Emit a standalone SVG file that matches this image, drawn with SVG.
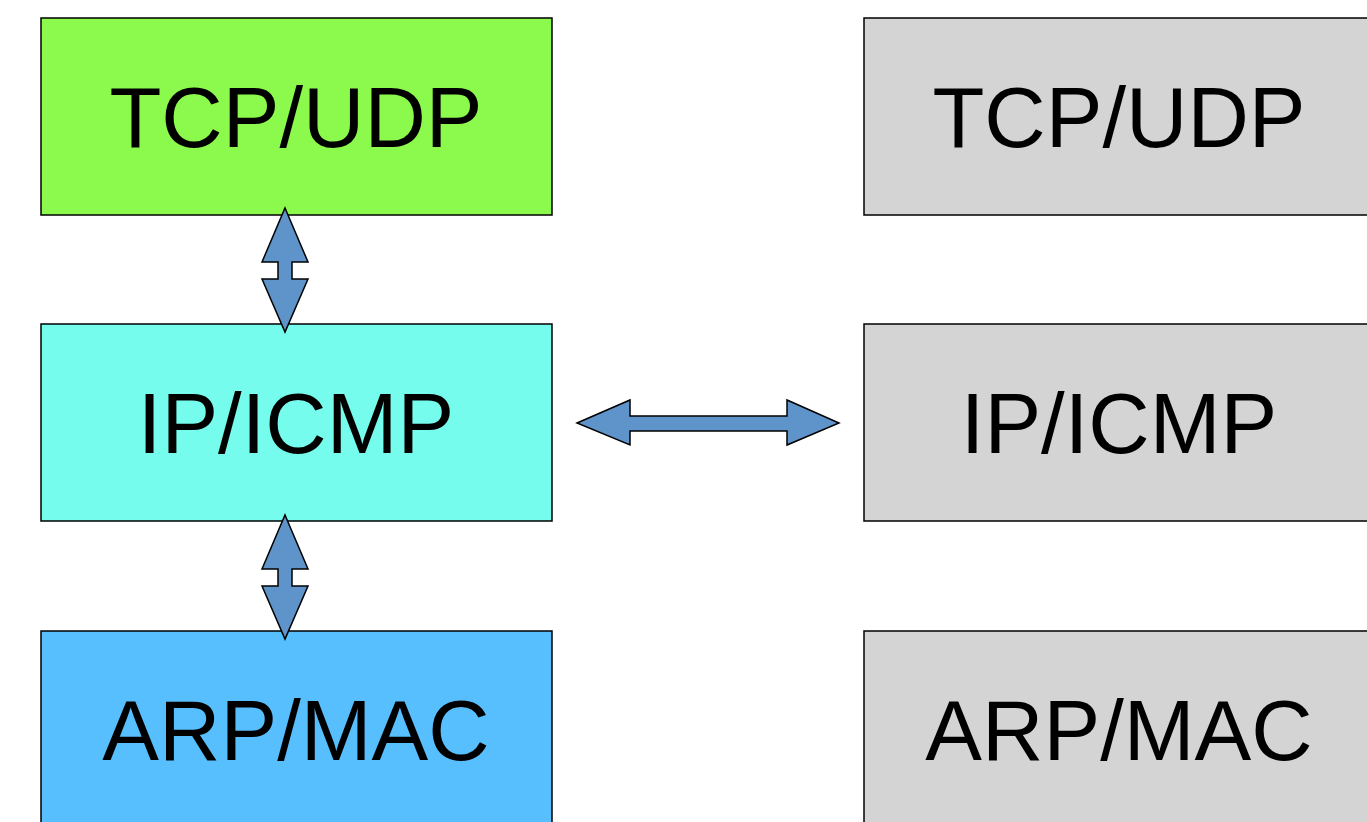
<svg xmlns="http://www.w3.org/2000/svg" width="1367" height="822" viewBox="0 0 1367 822">
<style>
rect{stroke:#000;stroke-width:1.5}
text{font-family:"Liberation Sans",Arial,sans-serif;font-size:85px;fill:#000;text-anchor:middle}
.arr{fill:#5f94ca;stroke:#000;stroke-width:1.5;stroke-linejoin:miter}
</style>
<rect x="0" y="0" width="1367" height="822" fill="#fff" style="stroke:none"/>
<g id="tcp-left"><rect x="41" y="18" width="511" height="197" fill="#8cfa4c"/><text x="296" y="147">TCP/UDP</text></g>
<g id="ip-left"><rect x="41" y="324" width="511" height="197" fill="#76fcec"/><text x="296" y="453">IP/ICMP</text></g>
<g id="arp-left"><rect x="41" y="631" width="511" height="197" fill="#58bffe"/><text x="296" y="760">ARP/MAC</text></g>
<g id="tcp-right"><rect x="864" y="18" width="511" height="197" fill="#d4d4d4"/><text x="1119" y="147">TCP/UDP</text></g>
<g id="ip-right"><rect x="864" y="324" width="511" height="197" fill="#d4d4d4"/><text x="1119" y="453">IP/ICMP</text></g>
<g id="arp-right"><rect x="864" y="631" width="511" height="197" fill="#d4d4d4"/><text x="1119" y="760">ARP/MAC</text></g>
<g id="connectors">
<path class="arr" d="M285,208 L308,262 L292,262 L292,279 L308,279 L285,332 L262,279 L278,279 L278,262 L262,262 Z"/>
<path class="arr" d="M285,515 L308,569 L292,569 L292,586 L308,586 L285,639 L262,586 L278,586 L278,569 L262,569 Z"/>
<path class="arr" d="M577,423 L630,400 L630,416 L787,416 L787,400 L839,423 L787,445 L787,431 L630,431 L630,445 Z"/>
</g>
</svg>
